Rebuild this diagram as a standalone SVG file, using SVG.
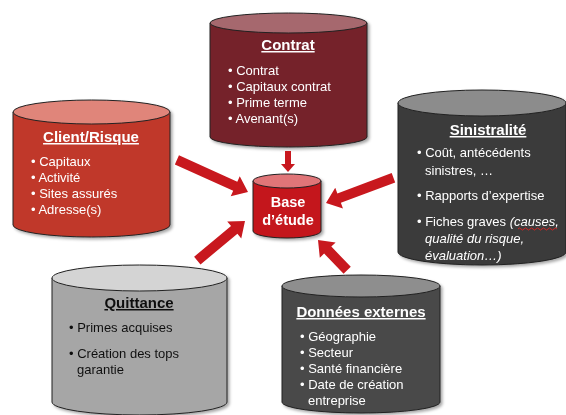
<svg xmlns="http://www.w3.org/2000/svg" width="566" height="415" viewBox="0 0 566 415">
<defs>
<filter id="sh" x="-10%" y="-10%" width="125%" height="125%">
<feDropShadow dx="2" dy="2" stdDeviation="1.5" flood-color="#000" flood-opacity="0.35"/>
</filter>
</defs>
<style>
.st{stroke:#222;stroke-width:1}
text{font-family:"Liberation Sans",Arial,sans-serif}
.t{font-size:15px;font-weight:bold;text-anchor:middle;text-decoration:underline}
.b{font-size:13px}
.w{fill:#fff}
.k{fill:#111}
.arr{fill:#C8181E}
</style>
<rect width="566" height="415" fill="#fff"/>

<g id="contrat" filter="url(#sh)">
<path class="st" d="M210,23 L210,137 A78.5,10 0 0 0 367,137 L367,23 Z" fill="#74202A"/>
<ellipse class="st" cx="288.5" cy="23" rx="78.5" ry="10" fill="#A6676E"/>
<text class="t w" x="288" y="50">Contrat</text>
<text class="b w" x="228" y="75">• Contrat</text>
<text class="b w" x="228" y="91">• Capitaux contrat</text>
<text class="b w" x="228" y="107">• Prime terme</text>
<text class="b w" x="228" y="123">• Avenant(s)</text>
</g>

<g id="client" filter="url(#sh)">
<path class="st" d="M13,112 L13,225 A78.5,12 0 0 0 170,225 L170,112 Z" fill="#C0392B"/>
<ellipse class="st" cx="91.5" cy="112" rx="78.5" ry="12" fill="#E0857A"/>
<text class="t w" x="91" y="142">Client/Risque</text>
<text class="b w" x="31" y="166">• Capitaux</text>
<text class="b w" x="31" y="182">• Activité</text>
<text class="b w" x="31" y="198">• Sites assurés</text>
<text class="b w" x="31" y="214">• Adresse(s)</text>
</g>

<g id="sinistralite" filter="url(#sh)">
<path class="st" d="M398,103 L398,252 A84,13 0 0 0 566,252 L566,103 Z" fill="#3B3B3B"/>
<ellipse class="st" cx="482" cy="103" rx="84" ry="13" fill="#8C8C8C"/>
<text class="t w" x="488" y="135">Sinistralité</text>
<text class="b w" x="417" y="157">• Coût, antécédents</text>
<text class="b w" x="425" y="175">sinistres, …</text>
<text class="b w" x="417" y="200">• Rapports d’expertise</text>
<text class="b w" x="417" y="226">• Fiches graves <tspan font-style="italic">(causes,</tspan></text>
<text class="b w" x="425" y="243" font-style="italic">qualité du risque,</text>
<text class="b w" x="425" y="260" font-style="italic">évaluation…)</text>
<path d="M518,229 q1.5,-2 3,0 t3,0 t3,0 t3,0 t3,0 t3,0 t3,0 t3,0 t3,0 t3,0 t3,0 t3,0 t3,0" fill="none" stroke="#E02020" stroke-width="0.9"/>
</g>

<g id="quittance" filter="url(#sh)">
<path class="st" d="M52,278 L52,402 A87.5,13 0 0 0 227,402 L227,278 Z" fill="#A6A6A6"/>
<ellipse class="st" cx="139.5" cy="278" rx="87.5" ry="13" fill="#D4D4D4"/>
<text class="t k" x="139" y="308">Quittance</text>
<text class="b k" x="69" y="332">• Primes acquises</text>
<text class="b k" x="69" y="358">• Création des tops</text>
<text class="b k" x="77" y="374">garantie</text>
</g>

<g id="donnees" filter="url(#sh)">
<path class="st" d="M282,286 L282,402 A79,11 0 0 0 440,402 L440,286 Z" fill="#494949"/>
<ellipse class="st" cx="361" cy="286" rx="79" ry="11" fill="#8E8E8E"/>
<text class="t w" x="361" y="317">Données externes</text>
<text class="b w" x="300" y="341">• Géographie</text>
<text class="b w" x="300" y="357">• Secteur</text>
<text class="b w" x="300" y="373">• Santé financière</text>
<text class="b w" x="300" y="389">• Date de création</text>
<text class="b w" x="308" y="405">entreprise</text>
</g>

<g id="connectors">
<polygon class="arr" transform="translate(288,172) rotate(90)" points="-21,-3 -8,-3 -8,-7 0,0 -8,7 -8,3 -21,3"/>
<polygon class="arr" transform="translate(248,192) rotate(24.3)" points="-78,-5 -14,-5 -14,-11 0,0 -14,11 -14,5 -78,5"/>
<polygon class="arr" transform="translate(326,203) rotate(159.5)" points="-72,-5 -14,-5 -14,-11 0,0 -14,11 -14,5 -72,5"/>
<polygon class="arr" transform="translate(245,221) rotate(-39.7)" points="-62,-5 -14,-5 -14,-11 0,0 -14,11 -14,5 -62,5"/>
<polygon class="arr" transform="translate(318,240) rotate(-134)" points="-42,-5 -14,-5 -14,-11 0,0 -14,11 -14,5 -42,5"/>
</g>

<g id="base" filter="url(#sh)">
<path class="st" d="M253,181 L253,231 A34,7 0 0 0 321,231 L321,181 Z" fill="#C4161C"/>
<ellipse class="st" cx="287" cy="181" rx="34" ry="7" fill="#E07478"/>
<text x="288" y="207" font-size="14.5" font-weight="bold" text-anchor="middle" fill="#fff">Base</text>
<text x="288" y="225" font-size="14.5" font-weight="bold" text-anchor="middle" fill="#fff">d’étude</text>
</g>
</svg>
